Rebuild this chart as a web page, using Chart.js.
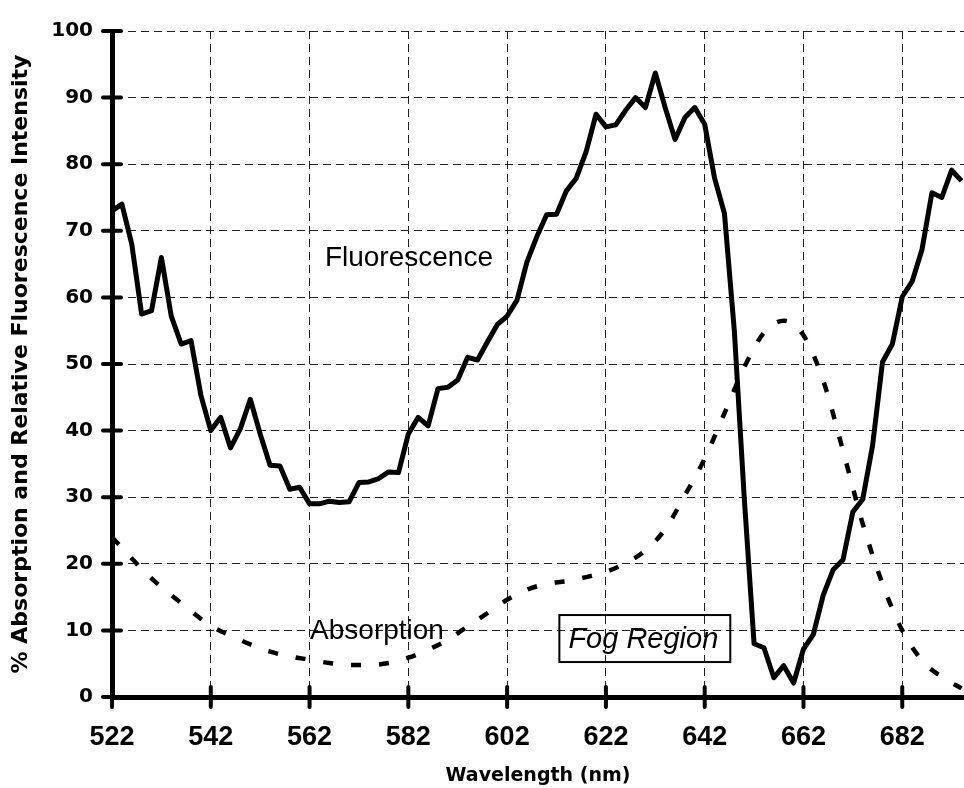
<!DOCTYPE html>
<html lang="en">
<head>
<meta charset="utf-8" />
<title>Absorption and Fluorescence</title>
<style>
    html, body { margin: 0; padding: 0; background: #fff; }
    #chart { display: block; }
</style>
</head>
<body>
<canvas id="chart" width="964" height="788"></canvas>
<script src="https://cdn.jsdelivr.net/npm/chart.js@4.4.1/dist/chart.umd.min.js"></script>
<script>
    // axis ticks
    const xTicks = [522, 542, 562, 582, 602, 622, 642, 662, 682];
    const yTicks = [0, 10, 20, 30, 40, 50, 60, 70, 80, 90, 100];

    // fluorescence (every 2 nm)
    const fluorWl = [522, 524, 526, 528, 530, 532, 534, 536, 538, 540,
        542, 544, 546, 548, 550, 552, 554, 556, 558, 560,
        562, 564, 566, 568, 570, 572, 574, 576, 578, 580,
        582, 584, 586, 588, 590, 592, 594, 596, 598, 600,
        602, 604, 606, 608, 610, 612, 614, 616, 618, 620,
        622, 624, 626, 628, 630, 632, 634, 636, 638, 640,
        642, 644, 646, 648, 650, 652, 654, 656, 658, 660,
        662, 664, 666, 668, 670, 672, 674, 676, 678, 680,
        682, 684, 686, 688, 690, 692, 694];
    const fluorVal = [73, 74, 68, 57.5, 58, 66, 57.2, 53, 53.5, 45.3,
        40, 42, 37.4, 40.3, 44.7, 39.5, 34.8, 34.7, 31.2, 31.5,
        29, 29, 29.4, 29.2, 29.3, 32.2, 32.3, 32.8, 33.8, 33.7,
        39.5, 42, 40.7, 46.3, 46.5, 47.6, 51, 50.6, 53.3, 55.9,
        57.2, 59.6, 65.3, 69.1, 72.4, 72.5, 76, 77.9, 81.9, 87.5,
        85.6, 85.9, 88.1, 90, 88.5, 93.7, 88.5, 83.7, 87, 88.5,
        86, 77.9, 72.6, 55, 30, 8, 7.4, 2.9, 4.7, 2.1,
        7.2, 9.4, 15.3, 19.1, 20.6, 27.8, 29.7, 37.8, 50.3, 53,
        60.1, 62.4, 67.2, 75.7, 75, 79.1, 77.5];

    // absorption (every 4 nm)
    const absWl = [522, 526, 530, 534, 538, 542, 546, 550, 554, 558,
        562, 566, 570, 574, 578, 582, 586, 590, 594, 598,
        602, 606, 610, 614, 618, 622, 626, 630, 634, 638,
        642, 646, 650, 654, 658, 662, 666, 670, 674, 678,
        682, 686, 690, 694];
    const absVal = [24, 20.8, 17.8, 15.3, 12.9, 10.7, 9.2, 7.9, 6.8, 6.1,
        5.6, 5.1, 4.8, 4.8, 5.1, 5.9, 7.1, 8.6, 10.6, 12.6,
        14.6, 16.1, 17, 17.4, 18, 18.8, 20.1, 22, 25.2, 30.3,
        35.8, 42.6, 49.5, 54.7, 56.5, 54.3, 47.5, 37, 26, 17,
        10, 5.5, 3, 1.3];

    const toPoints = (xs, ys) => xs.map((x, i) => ({ x: x, y: ys[i] }));

    const labelFont = '"Liberation Sans", Arial, Helvetica, sans-serif';
    const heavyFont = '"DejaVu Sans", Verdana, sans-serif';

    // cross ticks on the axes and the text notes inside the plot
    const notes = {
        id: 'notes',
        afterDraw(chart) {
            const ctx = chart.ctx;
            const x = chart.scales.x;
            const y = chart.scales.y;
            ctx.save();
            ctx.strokeStyle = '#000';
            ctx.lineWidth = 4;
            ctx.lineCap = 'round';
            ctx.beginPath();
            yTicks.forEach(v => {
                const py = y.getPixelForValue(v);
                ctx.moveTo(x.left - 9, py);
                ctx.lineTo(x.left + 9, py);
            });
            xTicks.forEach(v => {
                const px = x.getPixelForValue(v);
                ctx.moveTo(px, y.bottom - 10);
                ctx.lineTo(px, y.bottom + 10);
            });
            ctx.stroke();

            ctx.fillStyle = '#000';
            ctx.textBaseline = 'alphabetic';
            ctx.textAlign = 'left';
            ctx.font = '28px ' + labelFont;
            ctx.fillText('Fluorescence', x.getPixelForValue(565.1), y.getPixelForValue(64.7));
            ctx.fillText('Absorption', x.getPixelForValue(562.1), y.getPixelForValue(8.7));

            ctx.font = 'italic 29px ' + labelFont;
            const fx = x.getPixelForValue(614.4);
            const fy = y.getPixelForValue(7.35);
            const w = ctx.measureText('Fog Region').width;
            ctx.lineWidth = 2;
            ctx.lineCap = 'butt';
            ctx.strokeRect(fx - 9, fy - 33, w + 21, 47);
            ctx.fillText('Fog Region', fx, fy);
            ctx.restore();
        }
    };

    new Chart(document.getElementById('chart'), {
        type: 'line',
        data: {
            datasets: [{
                label: 'Fluorescence',
                data: toPoints(fluorWl, fluorVal),
                borderColor: '#000',
                borderWidth: 5,
                borderJoinStyle: 'round',
                pointRadius: 0,
                tension: 0,
                fill: false
            }, {
                label: 'Absorption',
                data: toPoints(absWl, absVal),
                borderColor: '#000',
                borderWidth: 4.5,
                borderDash: [10, 18],
                pointRadius: 0,
                cubicInterpolationMode: 'monotone',
                fill: false
            }]
        },
        options: {
            responsive: false,
            animation: false,
            devicePixelRatio: 1,
            layout: { padding: { top: 17, right: 0, left: 0, bottom: 0 } },
            plugins: {
                legend: { display: false },
                tooltip: { enabled: false }
            },
            scales: {
                x: {
                    type: 'linear',
                    min: 522,
                    max: 694.5,
                    afterBuildTicks: s => { s.ticks = xTicks.map(v => ({ value: v })); },
                    afterFit: s => { s.height = 91; },
                    grid: { color: '#222', lineWidth: 1, drawTicks: false },
                    border: { display: true, color: '#000', width: 5, dash: [8, 5] },
                    ticks: {
                        autoSkip: false,
                        maxRotation: 0,
                        padding: 24,
                        color: '#000',
                        font: { family: labelFont, size: 27, weight: 'bold' }
                    },
                    title: {
                        display: true,
                        text: 'Wavelength (nm)',
                        color: '#000',
                        font: { family: heavyFont, size: 19, weight: 'bold' },
                        padding: { top: 0, bottom: 1 }
                    }
                },
                y: {
                    min: 0,
                    max: 100,
                    afterBuildTicks: s => { s.ticks = yTicks.map(v => ({ value: v })); },
                    afterFit: s => { s.width = 112; },
                    grid: { color: '#222', lineWidth: 1, drawTicks: false },
                    border: { display: true, color: '#000', width: 5, dash: [8, 5] },
                    ticks: {
                        padding: 19,
                        color: '#000',
                        font: { family: heavyFont, size: 20, weight: 'bold' }
                    },
                    title: {
                        display: true,
                        text: '% Absorption and Relative Fluorescence Intensity',
                        color: '#000',
                        font: { family: heavyFont, size: 22, weight: 'bold' },
                        padding: { top: 8, bottom: 0 }
                    }
                }
            }
        },
        plugins: [notes]
    });
</script>
</body>
</html>
